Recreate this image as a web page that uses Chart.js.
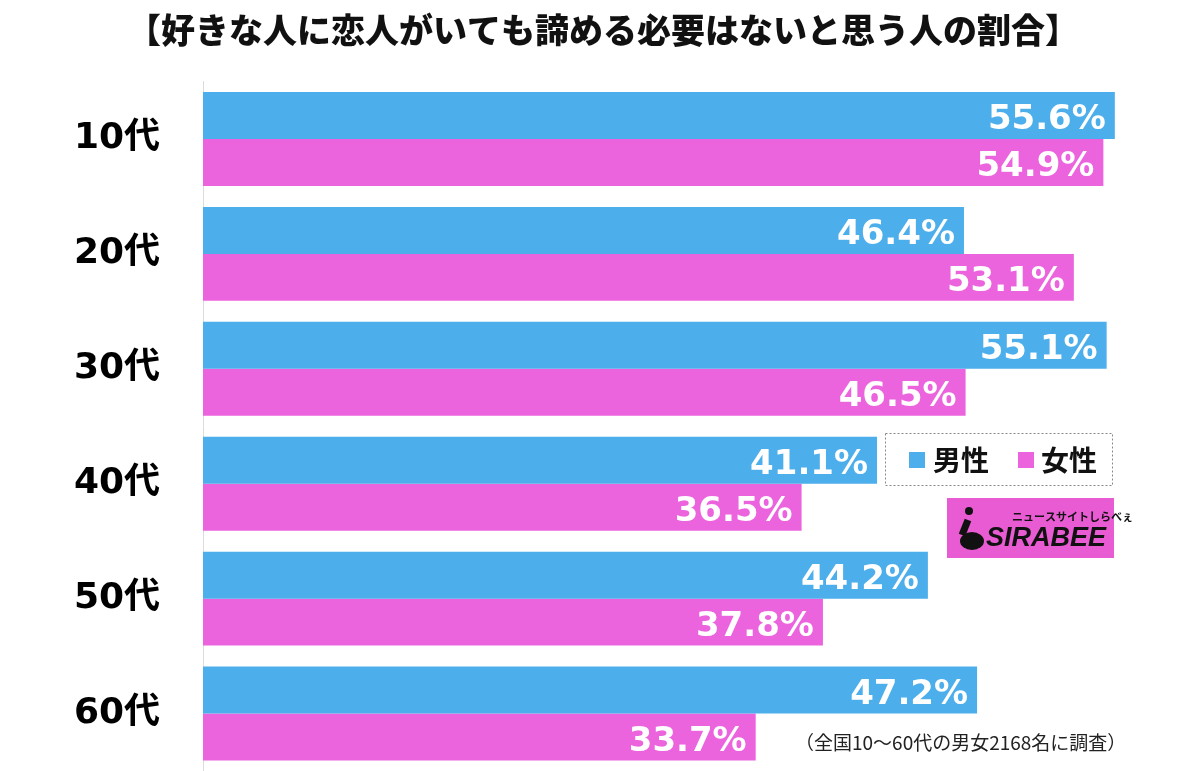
<!DOCTYPE html>
<html><head><meta charset="utf-8">
<script src="https://cdn.jsdelivr.net/npm/chart.js@4"></script>
<style>
html,body{margin:0;padding:0;background:#fff;}
#wrap{position:relative;width:1200px;height:771px;}
canvas{display:block;}
</style>
</head><body>
<div id="wrap"><canvas id="c" width="1200" height="771"></canvas></div>
<script>
const title = "【好きな人に恋人がいても諦める必要はないと思う人の割合】";
const categories = ["10代","20代","30代","40代","50代","60代"];
const seriesNames = ["男性","女性"];
const maleValues = [55.6, 46.4, 55.1, 41.1, 44.2, 47.2];
const femaleValues = [54.9, 53.1, 46.5, 36.5, 37.8, 33.7];
const footnote = "（全国10〜60代の男女2168名に調査）";
const logoSub = "ニュースサイトしらべぇ";
const logoMain = "SIRABEE";

const BLUE = "#4caeea";
const PINK = "#eb63dd";
const JP = '"Noto Sans CJK JP","Liberation Sans",sans-serif';
const NUM = '"DejaVu Sans","Noto Sans CJK JP",sans-serif';

const overlay = {
  id: "overlay",
  afterDatasetsDraw(chart) {
    const ctx = chart.ctx;
    ctx.save();
    chart.data.datasets.forEach((ds, di) => {
      const meta = chart.getDatasetMeta(di);
      meta.data.forEach((bar, i) => {
        ctx.font = "bold 34px " + NUM;
        ctx.fillStyle = "#fff";
        ctx.textAlign = "right";
        ctx.textBaseline = "alphabetic";
        ctx.fillText(ds.data[i].toFixed(1) + "%", bar.x - 9, bar.y + 14);
      });
    });
    // title
    ctx.fillStyle = "#111";
    ctx.font = "900 34px " + JP;
    ctx.textAlign = "center";
    ctx.textBaseline = "middle";
    ctx.fillText(title, 603, 30);
    // legend box
    ctx.setLineDash([2, 2]);
    ctx.strokeStyle = "#888";
    ctx.lineWidth = 1;
    ctx.strokeRect(885.5, 433.5, 227, 52);
    ctx.setLineDash([]);
    ctx.fillStyle = BLUE;
    ctx.fillRect(909, 452, 16, 16);
    ctx.fillStyle = PINK;
    ctx.fillRect(1018, 452, 16, 16);
    ctx.fillStyle = "#111";
    ctx.font = "bold 28px " + JP;
    ctx.textAlign = "left";
    ctx.fillText(seriesNames[0], 933, 460);
    ctx.fillText(seriesNames[1], 1041, 460);
    // logo
    ctx.fillStyle = "#e85bd2";
    ctx.fillRect(947, 498, 167, 60);
    ctx.fillStyle = "#111";
    ctx.font = "italic 900 27px " + '"Liberation Sans",sans-serif';
    ctx.textAlign = "left";
    ctx.fillText(logoMain, 986, 539);
    ctx.font = "bold 11px " + JP;
    ctx.fillText(logoSub, 1012, 517);
    ctx.beginPath();
    ctx.arc(969, 511, 4, 0, Math.PI * 2);
    ctx.fill();
    ctx.beginPath();
    ctx.lineWidth = 7;
    ctx.strokeStyle = "#111";
    ctx.moveTo(968, 520);
    ctx.lineTo(962, 535);
    ctx.stroke();
    ctx.beginPath();
    ctx.ellipse(972, 541, 12, 9, 0, 0, Math.PI * 2);
    ctx.fill();
    // footnote
    ctx.fillStyle = "#222";
    ctx.font = "19px " + JP;
    ctx.textAlign = "left";
    ctx.fillText(footnote, 795, 743);
    ctx.restore();
  }
};

new Chart(document.getElementById("c"), {
  type: "bar",
  data: {
    labels: categories,
    datasets: [
      { label: seriesNames[0], data: maleValues, backgroundColor: BLUE, categoryPercentage: 0.817, barPercentage: 1.0 },
      { label: seriesNames[1], data: femaleValues, backgroundColor: PINK, categoryPercentage: 0.817, barPercentage: 1.0 }
    ]
  },
  options: {
    indexAxis: "y",
    responsive: false,
    animation: false,
    devicePixelRatio: 1,
    layout: { padding: { top: 81.5, bottom: -0.5, right: 13, left: 0 } },
    plugins: { legend: { display: false }, tooltip: { enabled: false } },
    scales: {
      x: { min: 0, max: 60, display: false, grid: { display: false } },
      y: {
        afterFit(s) { s.width = 203; s.paddingTop = 0; s.paddingBottom = 0; },
        grid: { display: false, drawTicks: false },
        border: { display: true, color: "#dcdcdc", width: 1 },
        ticks: { color: "#000", font: { family: NUM, size: 36, weight: "bold" }, padding: 43 }
      }
    }
  },
  plugins: [overlay]
});
</script>
</body></html>
